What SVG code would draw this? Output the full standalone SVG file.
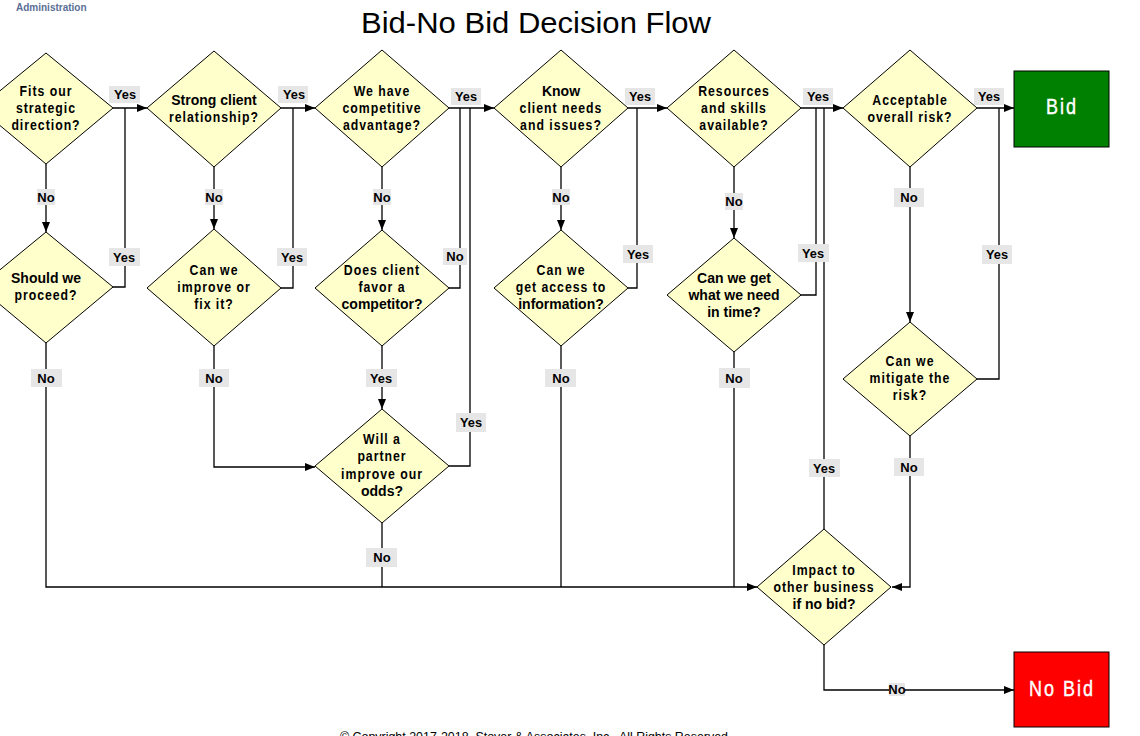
<svg xmlns="http://www.w3.org/2000/svg" width="1140" height="736" viewBox="0 0 1140 736">
<style>
.dia{fill:#ffffcc;stroke:#000;stroke-width:1}
.ln{fill:none;stroke:#000;stroke-width:1.3}
.arr{marker-end:url(#ah)}
.sp{font-family:"Liberation Sans",Arial,sans-serif;font-weight:bold;font-size:15px;letter-spacing:1.2px;text-anchor:middle;fill:#000}
.nb{font-family:"Liberation Sans",Arial,sans-serif;font-weight:bold;font-size:14px;text-anchor:middle;fill:#000}
.lb{fill:#e6e6e6}
.ly{font-family:"Liberation Sans",Arial,sans-serif;font-weight:bold;font-size:13px;text-anchor:middle;fill:#000}
.ln2{font-family:"Liberation Sans",Arial,sans-serif;font-weight:bold;font-size:13px;text-anchor:middle;fill:#000}
.term{font-family:"Liberation Sans",Arial,sans-serif;font-size:22px;letter-spacing:2.4px;text-anchor:middle;fill:#fff;stroke:#fff;stroke-width:0.4}
</style>
<defs>
<marker id="ah" markerUnits="userSpaceOnUse" markerWidth="10" markerHeight="10" viewBox="0 0 10 10" refX="10" refY="5" orient="auto">
<path d="M0,1 L10,5 L0,9 Z" fill="#000"/>
</marker>
</defs>
<rect width="1140" height="736" fill="#fff"/>
<text x="16" y="11" font-family="Liberation Sans,Arial,sans-serif" font-weight="bold" font-size="10" fill="#5a6e96">Administration</text>
<text x="536" y="33" font-family="Liberation Sans,Arial,sans-serif" font-size="30" text-anchor="middle" textLength="350" lengthAdjust="spacingAndGlyphs" fill="#000">Bid-No Bid Decision Flow</text>

<g id="connectors">
<path class="ln arr" d="M113,108 H147"/>
<path class="ln arr" d="M281,108 H315"/>
<path class="ln arr" d="M449,108 H494"/>
<path class="ln arr" d="M628,108 H667"/>
<path class="ln arr" d="M801,108 H843"/>
<path class="ln arr" d="M977,108 H1014"/>
<path class="ln arr" d="M46,164 V232"/>
<path class="ln arr" d="M214,167 V229"/>
<path class="ln arr" d="M382,167 V230"/>
<path class="ln arr" d="M561,167 V230"/>
<path class="ln arr" d="M734,167 V238"/>
<path class="ln arr" d="M910,167 V322"/>
<path class="ln" d="M113,287 H125 V108"/>
<path class="ln" d="M281,288 H293 V108"/>
<path class="ln" d="M449,288 H460 V108"/>
<path class="ln" d="M628,288 H637 V108"/>
<path class="ln" d="M801,295 H816 V108"/>
<path class="ln" d="M977,379 H999 V108"/>
<path class="ln" d="M449,466 H470 V108"/>
<path class="ln" d="M824,529 V108"/>
<path class="ln arr" d="M382,346 V409"/>
<path class="ln arr" d="M214,346 V467 H315"/>
<path class="ln arr" d="M46,343 V587 H757"/>
<path class="ln" d="M382,523 V587"/>
<path class="ln" d="M561,346 V587"/>
<path class="ln" d="M734,352 V587"/>
<path class="ln arr" d="M910,436 V587 H892"/>
<path class="ln arr" d="M824,645 V690 H1014"/>
</g>

<g id="labels">
<rect class="lb" x="109" y="86" width="31" height="17"/><text class="ly" x="125" y="99" textLength="22" lengthAdjust="spacingAndGlyphs">Yes</text>
<rect class="lb" x="278" y="86" width="30" height="17"/><text class="ly" x="294" y="99" textLength="22" lengthAdjust="spacingAndGlyphs">Yes</text>
<rect class="lb" x="451" y="88" width="30" height="17"/><text class="ly" x="466" y="101" textLength="22" lengthAdjust="spacingAndGlyphs">Yes</text>
<rect class="lb" x="625" y="88" width="30" height="17"/><text class="ly" x="640" y="101" textLength="22" lengthAdjust="spacingAndGlyphs">Yes</text>
<rect class="lb" x="803" y="88" width="30" height="17"/><text class="ly" x="818" y="101" textLength="22" lengthAdjust="spacingAndGlyphs">Yes</text>
<rect class="lb" x="974" y="88" width="30" height="17"/><text class="ly" x="989" y="101" textLength="22" lengthAdjust="spacingAndGlyphs">Yes</text>
<rect class="lb" x="37" y="189" width="18" height="16"/><text class="ln2" x="46" y="202">No</text>
<rect class="lb" x="205" y="189" width="18" height="16"/><text class="ln2" x="214" y="202">No</text>
<rect class="lb" x="373" y="189" width="18" height="16"/><text class="ln2" x="382" y="202">No</text>
<rect class="lb" x="552" y="189" width="18" height="16"/><text class="ln2" x="561" y="202">No</text>
<rect class="lb" x="725" y="193" width="18" height="17"/><text class="ln2" x="734" y="206">No</text>
<rect class="lb" x="894" y="188" width="30" height="19"/><text class="ln2" x="909" y="202">No</text>
<rect class="lb" x="109" y="248" width="31" height="18"/><text class="ly" x="124" y="262" textLength="22" lengthAdjust="spacingAndGlyphs">Yes</text>
<rect class="lb" x="277" y="248" width="30" height="18"/><text class="ly" x="292" y="262" textLength="22" lengthAdjust="spacingAndGlyphs">Yes</text>
<rect class="lb" x="443" y="248" width="24" height="17"/><text class="ln2" x="455" y="261">No</text>
<rect class="lb" x="623" y="245" width="30" height="18"/><text class="ly" x="638" y="259" textLength="22" lengthAdjust="spacingAndGlyphs">Yes</text>
<rect class="lb" x="798" y="244" width="31" height="18"/><text class="ly" x="813" y="258" textLength="22" lengthAdjust="spacingAndGlyphs">Yes</text>
<rect class="lb" x="982" y="245" width="30" height="19"/><text class="ly" x="997" y="259" textLength="22" lengthAdjust="spacingAndGlyphs">Yes</text>
<rect class="lb" x="31" y="369" width="31" height="18"/><text class="ln2" x="46" y="383">No</text>
<rect class="lb" x="199" y="369" width="30" height="18"/><text class="ln2" x="214" y="383">No</text>
<rect class="lb" x="366" y="369" width="31" height="18"/><text class="ly" x="381" y="383" textLength="22" lengthAdjust="spacingAndGlyphs">Yes</text>
<rect class="lb" x="545" y="369" width="31" height="18"/><text class="ln2" x="561" y="383">No</text>
<rect class="lb" x="719" y="368" width="31" height="20"/><text class="ln2" x="734" y="383">No</text>
<rect class="lb" x="456" y="413" width="30" height="19"/><text class="ly" x="471" y="427" textLength="22" lengthAdjust="spacingAndGlyphs">Yes</text>
<rect class="lb" x="809" y="459" width="31" height="18"/><text class="ly" x="824" y="473" textLength="22" lengthAdjust="spacingAndGlyphs">Yes</text>
<rect class="lb" x="894" y="458" width="30" height="18"/><text class="ln2" x="909" y="472">No</text>
<rect class="lb" x="366" y="548" width="31" height="19"/><text class="ln2" x="382" y="562">No</text>
<rect class="lb" x="889" y="683" width="16" height="13"/><text class="ln2" x="897" y="694" font-size="12">No</text>
</g>

<g id="d1"><path class="dia" d="M46,53 L113,108 L46,164 L-21,108 Z"/>
<g transform="translate(46 0) scale(0.82 1)"><text class="sp" x="0" y="96">Fits our</text><text class="sp" x="0" y="113">strategic</text><text class="sp" x="0" y="130">direction?</text></g></g>
<g id="d2"><path class="dia" d="M214,51 L281,108 L214,167 L147,108 Z"/>
<text class="nb" x="214" y="105">Strong client</text>
<g transform="translate(214 0) scale(0.82 1)"><text class="sp" x="0" y="122">relationship?</text></g></g>
<g id="d3"><path class="dia" d="M382,50 L449,108 L382,167 L315,108 Z"/>
<g transform="translate(382 0) scale(0.82 1)"><text class="sp" x="0" y="96">We have</text><text class="sp" x="0" y="113">competitive</text><text class="sp" x="0" y="130">advantage?</text></g></g>
<g id="d4"><path class="dia" d="M561,50 L628,108 L561,167 L494,108 Z"/>
<text class="nb" x="561" y="96">Know</text>
<g transform="translate(561 0) scale(0.82 1)"><text class="sp" x="0" y="113">client needs</text><text class="sp" x="0" y="130">and issues?</text></g></g>
<g id="d5"><path class="dia" d="M734,50 L801,108 L734,167 L667,108 Z"/>
<g transform="translate(734 0) scale(0.82 1)"><text class="sp" x="0" y="96">Resources</text><text class="sp" x="0" y="113">and skills</text><text class="sp" x="0" y="130">available?</text></g></g>
<g id="d6"><path class="dia" d="M910,50 L977,108 L910,167 L843,108 Z"/>
<g transform="translate(910 0) scale(0.82 1)"><text class="sp" x="0" y="105">Acceptable</text><text class="sp" x="0" y="122">overall risk?</text></g></g>
<g id="bid"><rect x="1014" y="71" width="95" height="76" fill="#008000" stroke="#000" stroke-width="1"/>
<g transform="translate(1062 0) scale(0.82 1)"><text class="term" x="0" y="114">Bid</text></g></g>

<g id="d1b"><path class="dia" d="M46,232 L113,287 L46,343 L-21,287 Z"/>
<text class="nb" x="46" y="283">Should we</text>
<g transform="translate(46 0) scale(0.82 1)"><text class="sp" x="0" y="300">proceed?</text></g></g>
<g id="d2b"><path class="dia" d="M214,229 L281,288 L214,346 L147,288 Z"/>
<g transform="translate(214 0) scale(0.82 1)"><text class="sp" x="0" y="275">Can we</text><text class="sp" x="0" y="292">improve or</text><text class="sp" x="0" y="309">fix it?</text></g></g>
<g id="d3b"><path class="dia" d="M382,230 L449,288 L382,346 L315,288 Z"/>
<g transform="translate(382 0) scale(0.82 1)"><text class="sp" x="0" y="275">Does client</text><text class="sp" x="0" y="292">favor a</text></g>
<text class="nb" x="382" y="309">competitor?</text></g>
<g id="d4b"><path class="dia" d="M561,230 L628,288 L561,346 L494,288 Z"/>
<g transform="translate(561 0) scale(0.82 1)"><text class="sp" x="0" y="275">Can we</text><text class="sp" x="0" y="292">get access to</text></g>
<text class="nb" x="561" y="309">information?</text></g>
<g id="d5b"><path class="dia" d="M734,238 L801,295 L734,352 L667,295 Z"/>
<text class="nb" x="734" y="283">Can we get</text><text class="nb" x="734" y="300">what we need</text><text class="nb" x="734" y="317">in time?</text></g>
<g id="d6b"><path class="dia" d="M910,322 L977,379 L910,436 L843,379 Z"/>
<g transform="translate(910 0) scale(0.82 1)"><text class="sp" x="0" y="366">Can we</text><text class="sp" x="0" y="383">mitigate the</text><text class="sp" x="0" y="400">risk?</text></g></g>
<g id="d3c"><path class="dia" d="M382,409 L449,466 L382,523 L315,466 Z"/>
<g transform="translate(382 0) scale(0.82 1)"><text class="sp" x="0" y="444">Will a</text><text class="sp" x="0" y="461">partner</text><text class="sp" x="0" y="479">improve our</text></g>
<text class="nb" x="382" y="496">odds?</text></g>
<g id="d7"><path class="dia" d="M824,529 L891,587 L824,645 L757,587 Z"/>
<g transform="translate(824 0) scale(0.82 1)"><text class="sp" x="0" y="575">Impact to</text><text class="sp" x="0" y="592">other business</text></g>
<text class="nb" x="824" y="609">if no bid?</text></g>
<g id="nobid"><rect x="1014" y="652" width="95" height="75" fill="#ff0000" stroke="#000" stroke-width="1"/>
<g transform="translate(1062 0) scale(0.82 1)"><text class="term" x="0" y="696">No Bid</text></g></g>

<text x="534" y="741" font-family="Liberation Sans,Arial,sans-serif" font-size="13" text-anchor="middle" textLength="388" lengthAdjust="spacingAndGlyphs" fill="#000">© Copyright 2017-2018, Stover &amp; Associates, Inc., All Rights Reserved</text>
</svg>
